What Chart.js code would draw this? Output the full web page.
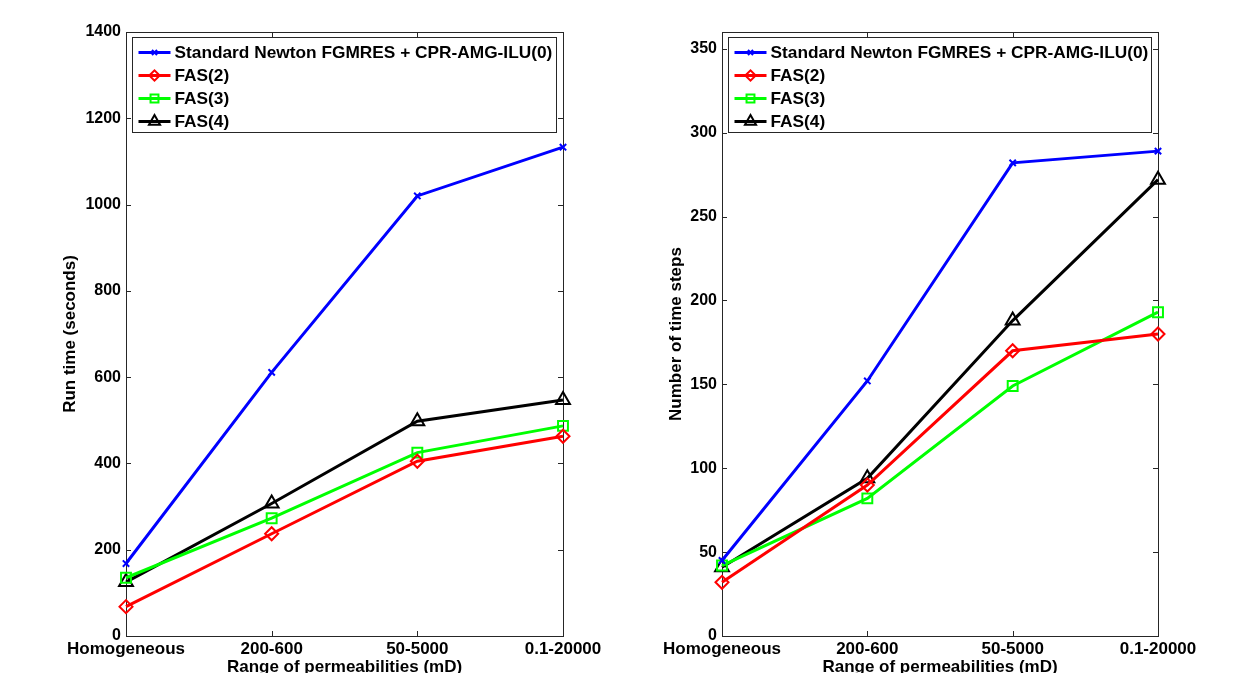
<!DOCTYPE html>
<html>
<head>
<meta charset="utf-8">
<script src="https://cdn.jsdelivr.net/npm/chart.js@4.4.0/dist/chart.umd.min.js"></script>
<style>
  html, body { margin: 0; padding: 0; background: #fff; overflow: hidden; }
  .wrap { position: absolute; top: 0; height: 700px; }
  #left { left: 0; width: 623px; }
  #right { left: 623px; width: 624px; }
</style>
</head>
<body>
<div class="wrap" id="left"><canvas id="runChart"></canvas></div>
<div class="wrap" id="right"><canvas id="stepChart"></canvas></div>
<script>
// categories on the x axis
const categories = ['Homogeneous', '200-600', '50-5000', '0.1-20000'];
const seriesNames = ['Standard Newton FGMRES + CPR-AMG-ILU(0)', 'FAS(2)', 'FAS(3)', 'FAS(4)'];

// run time (seconds)
const runNewton = [168, 611, 1020, 1133];
const runFas2 = [68, 237, 405, 463];
const runFas3 = [135, 273, 425, 487];
const runFas4 = [125, 307, 498, 547];

// number of time steps
const stepsNewton = [45, 152, 282, 289];
const stepsFas2 = [32, 90, 170, 180];
const stepsFas3 = [42, 82, 149, 193];
const stepsFas4 = [41, 94, 188, 272];

const colors = ['#0000ff', '#ff0000', '#00ff00', '#000000'];
const markers = ['crossRot', 'rectRot', 'rect', 'triangle'];
const markerSize = [4.5, 6.5, 7, 8];

const FONT = "'Liberation Sans', Arial, sans-serif";

function makeSets(series) {
  return series.map((vals, i) => ({
    label: seriesNames[i],
    data: vals,
    borderColor: colors[i],
    backgroundColor: colors[i],
    borderWidth: 3,
    pointStyle: markers[i],
    pointRadius: markerSize[i],
    pointBorderWidth: 2,
    pointBorderColor: colors[i],
    pointBackgroundColor: 'rgba(0,0,0,0)',
    tension: 0,
    clip: false
  }));
}

// MATLAB style box with inward ticks on all four sides
const matlabBox = {
  id: 'matlabBox',
  beforeDatasetsDraw(chart) {
    const {ctx, chartArea: a, scales: {x, y}} = chart;
    ctx.save();
    ctx.strokeStyle = '#262626';
    ctx.lineWidth = 1;
    ctx.strokeRect(Math.round(a.left) + 0.5, Math.round(a.top) + 0.5,
      Math.round(a.right - a.left), Math.round(a.bottom - a.top));
    ctx.beginPath();
    y.ticks.forEach(t => {
      const py = Math.round(y.getPixelForValue(t.value)) + 0.5;
      ctx.moveTo(a.left, py); ctx.lineTo(a.left + 5, py);
      ctx.moveTo(a.right - 5, py); ctx.lineTo(a.right, py);
    });
    x.ticks.forEach((t, i) => {
      const px = Math.round(x.getPixelForTick(i)) + 0.5;
      ctx.moveTo(px, a.bottom); ctx.lineTo(px, a.bottom - 5);
      ctx.moveTo(px, a.top); ctx.lineTo(px, a.top + 5);
    });
    ctx.stroke();
    ctx.restore();
  }
};

// legend drawn inside the plot, top, full width
const boxLegend = {
  id: 'boxLegend',
  afterDraw(chart) {
    const {ctx, chartArea: a} = chart;
    ctx.save();
    const left = Math.round(a.left) + 6.5, top = Math.round(a.top) + 5.5;
    const right = Math.round(a.right) - 6.5, bottom = top + 95;
    ctx.fillStyle = '#fff';
    ctx.fillRect(left, top, right - left, bottom - top);
    ctx.strokeStyle = '#262626';
    ctx.lineWidth = 1;
    ctx.strokeRect(left, top, right - left, bottom - top);
    ctx.font = "bold 17.3px " + FONT;
    ctx.textBaseline = 'middle';
    chart.data.datasets.forEach((ds, i) => {
      const yy = top + 15 + i * 23;
      ctx.strokeStyle = ds.borderColor;
      ctx.lineWidth = 3;
      ctx.beginPath();
      ctx.moveTo(left + 6, yy); ctx.lineTo(left + 38, yy);
      ctx.stroke();
      ctx.lineWidth = 2;
      ctx.fillStyle = 'rgba(0,0,0,0)';
      Chart.helpers.drawPoint(ctx, {pointStyle: ds.pointStyle, radius: ds.pointRadius * 0.8, borderWidth: 2, rotation: 0}, left + 22, yy);
      ctx.fillStyle = '#000';
      ctx.fillText(ds.label, left + 42, yy + 1);
    });
    ctx.restore();
  }
};

function makeChart(id, series, yTitle, yMax, step, pad, yWidth) {
  return new Chart(document.getElementById(id), {
    type: 'line',
    data: { labels: categories, datasets: makeSets(series) },
    options: {
      responsive: true,
      maintainAspectRatio: false,
      animation: false,
      layout: { padding: { left: pad.left, right: pad.right, top: 32, bottom: 18 } },
      plugins: { legend: { display: false }, tooltip: { enabled: false } },
      scales: {
        x: {
          type: 'category',
          offset: false,
          grid: { display: false, drawTicks: false },
          border: { display: false },
          ticks: { color: '#000', font: { family: FONT, size: 17, weight: 'bold' }, padding: 3, maxRotation: 0, autoSkip: false },
          title: { display: true, text: 'Range of permeabilities (mD)', color: '#000', font: { family: FONT, size: 17, weight: 'bold' }, padding: 4 },
          afterFit: s => { s.height = 46; }
        },
        y: {
          min: 0,
          max: yMax,
          grid: { display: false, drawTicks: false },
          border: { display: false },
          ticks: { stepSize: step, includeBounds: false, color: '#000', font: { family: FONT, size: 16, weight: 'bold' }, padding: 5, callback: v => String(v) },
          title: { display: true, text: yTitle, color: '#000', font: { family: FONT, size: 17, weight: 'bold' }, padding: 4 },
          afterFit: s => { s.width = yWidth; }
        }
      }
    },
    plugins: [matlabBox, boxLegend]
  });
}

makeChart('runChart', [runNewton, runFas2, runFas3, runFas4], 'Run time (seconds)', 1400, 200, { left: 56, right: 60 }, 70);
makeChart('stepChart', [stepsNewton, stepsFas2, stepsFas3, stepsFas4], 'Number of time steps', 360, 50, { left: 39, right: 89 }, 60);
</script>
</body>
</html>
